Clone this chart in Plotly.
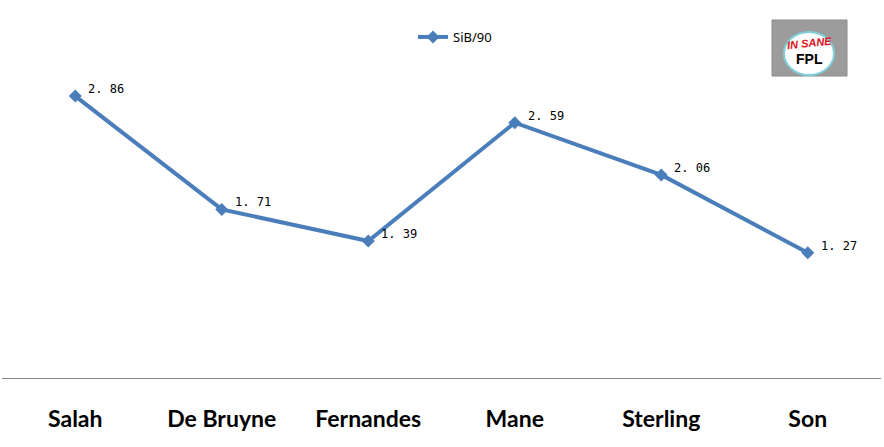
import plotly.graph_objects as go

players = ["Salah", "De Bruyne", "Fernandes", "Mane", "Sterling", "Son"]
sib90 = [2.86, 1.71, 1.39, 2.59, 2.06, 1.27]
label_text = ["2. 86", "1. 71", "1. 39", "2. 59", "2. 06", "1. 27"]

W, H = 884, 447
ml, mr, mt, mb = 2, 3, 33, 69
pw, ph = W - ml - mr, H - mt - mb

def px(x):
    return (x - ml) / pw

def py(y):
    return (H - mb - y) / ph

fig = go.Figure()
fig.add_trace(go.Scatter(
    x=players, y=sib90, mode="lines+markers", name="SiB/90",
    line=dict(color="#4A7EBB", width=4),
    marker=dict(symbol="diamond", size=10, color="#4A7EBB"),
    cliponaxis=False,
))

annotations = []
for p, v, t in zip(players, sib90, label_text):
    annotations.append(dict(x=p, y=v, xref="x", yref="y", text=t, showarrow=False,
                            xanchor="left", yanchor="middle", xshift=11, yshift=7,
                            font=dict(family="DejaVu Sans Mono", size=12, color="#000000")))

shapes = [
    dict(type="rect", xref="paper", yref="paper", x0=px(772), x1=px(847), y0=py(76), y1=py(20),
         fillcolor="#9c9c9c", line=dict(color="#8a8a8a", width=1), layer="above"),
    dict(type="circle", xref="paper", yref="paper", x0=px(784), x1=px(834), y0=py(75), y1=py(32),
         fillcolor="#ffffff", line=dict(color="#7fd0dc", width=2), layer="above"),
]
annotations += [
    dict(text="<b><i>IN SANE</i></b>", xref="paper", yref="paper", x=px(809), y=py(43),
         xanchor="center", yanchor="middle",
         showarrow=False, font=dict(family="Liberation Sans", size=11, color="#e0101c"), textangle=-6),
    dict(text="<b>FPL</b>", xref="paper", yref="paper", x=px(809), y=py(59),
         xanchor="center", yanchor="middle",
         showarrow=False, font=dict(family="Liberation Sans", size=14, color="#000000")),
]

fig.update_layout(
    width=W, height=H,
    margin=dict(l=ml, r=mr, t=mt, b=mb, autoexpand=False),
    paper_bgcolor="#ffffff", plot_bgcolor="#ffffff",
    showlegend=True,
    legend=dict(orientation="h", x=px(455), xanchor="center", y=py(37), yanchor="middle",
                font=dict(family="Noto Sans", size=13, color="#000000"),
                bgcolor="rgba(0,0,0,0)"),
    xaxis=dict(range=[-0.5, 5.5], showgrid=False, zeroline=False, showline=True,
               linecolor="#868686", linewidth=1, ticks="", ticklabelstandoff=20,
               automargin=False,
               tickfont=dict(family="Lato", size=23, color="#000000", weight="bold")),
    yaxis=dict(range=[0, 3.5], showgrid=False, zeroline=False, showline=False,
               showticklabels=False, automargin=False),
    shapes=shapes, annotations=annotations,
)
fig.write_html("out.html", config={"displayModeBar": False},
               post_script="document.body.style.margin='0';document.body.style.overflow='hidden';")
